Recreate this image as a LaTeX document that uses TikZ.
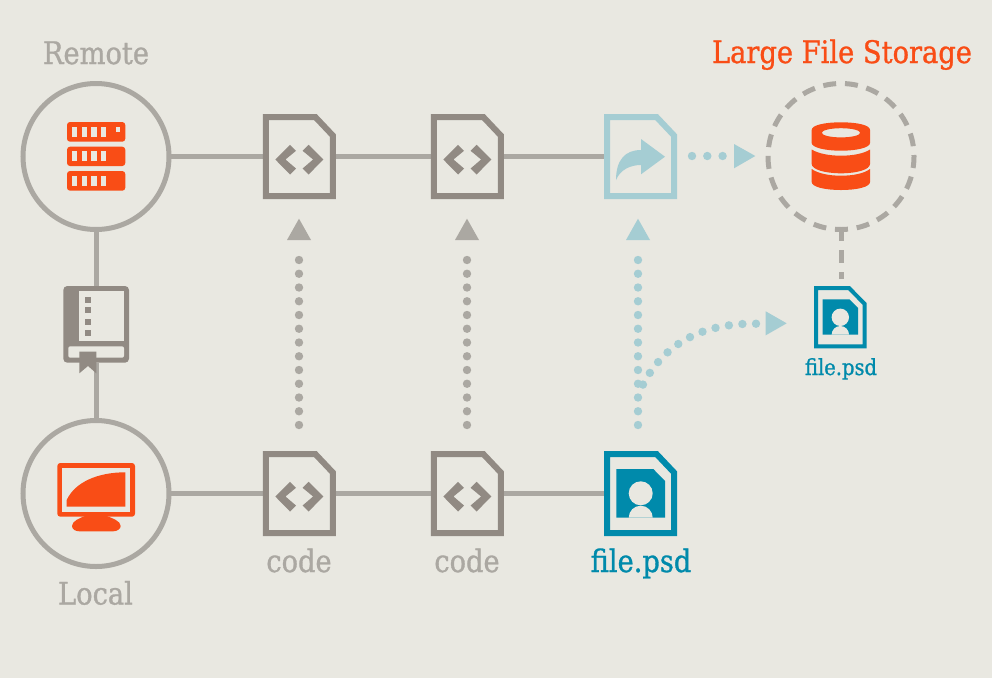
\documentclass[tikz,border=0pt]{standalone}
\usepackage{fontspec}
\setmainfont{DejaVu Serif}[FakeStretch=0.88,FakeBold=1.0]
\usetikzlibrary{calc}
\definecolor{bgc}{HTML}{E9E8E1}
\definecolor{orangec}{HTML}{F94D16}
\definecolor{tealc}{HTML}{008AAB}
\definecolor{lightc}{HTML}{A5CDD3}
\definecolor{linec}{HTML}{ABA8A2}
\definecolor{docc}{HTML}{918A83}
\tikzset{
  hub/.style={circle,draw=linec,line width=5pt,minimum size=146pt,inner sep=0pt,outer sep=0pt},
  docbox/.style={rectangle,minimum width=73pt,minimum height=85pt,inner sep=0pt,outer sep=0pt},
  smalldocbox/.style={rectangle,minimum width=53pt,minimum height=62.5pt,inner sep=0pt,outer sep=0pt},
  bookbox/.style={rectangle,minimum width=66pt,minimum height=76.7pt,inner sep=0pt,outer sep=0pt},
  wire/.style={draw=linec,line width=5pt},
  dotline/.style={line width=8.4pt,line cap=round,dash pattern=on 0pt off 13.75pt},
  dashwire/.style={draw=linec,line width=5pt,dash pattern=on 13pt off 9pt,dash phase=1.5pt},
  lbl/.style={anchor=base,inner sep=0pt,font=\fontsize{31}{31}\selectfont}
}
% document outline and code mark
\newcommand{\docoutline}[2]{%
  \begin{scope}[shift={(#1.center)}]
    \draw[#2,line width=6pt,miter limit=10] (-33.5,-39.5) -- (16,-39.5) -- (33.5,-21) -- (33.5,39.5) -- (-33.5,39.5) -- cycle;
  \end{scope}}
\newcommand{\codemark}[1]{%
  \begin{scope}[shift={(#1.center)}]
    \fill[docc] (-24,3) -- (-9.3,-11.7) -- (-3.3,-5.7) -- (-13.8,3) -- (-3.3,12) -- (-9.3,18) -- cycle;
    \fill[docc] (24,3) -- (9.3,-11.7) -- (3.3,-5.7) -- (13.8,3) -- (3.3,12) -- (9.3,18) -- cycle;
  \end{scope}}
\begin{document}
\begin{tikzpicture}[x=1pt,y=-1pt]
\useasboundingbox[fill=bgc] (0,0) rectangle (992,678);
% named places
\node[hub] (remote) at (96,156.5) {};
\node[hub] (local) at (96,493.5) {};
\node[bookbox] (book) at (96,324.3) {};
\node[docbox] (up1) at (299.3,156.5) {};
\node[docbox] (up2) at (467.3,156.5) {};
\node[docbox] (up3) at (640.5,156.5) {};
\node[docbox] (lo1) at (299.3,493.5) {};
\node[docbox] (lo2) at (467.3,493.5) {};
\node[docbox] (psd) at (640.5,493.5) {};
\node[circle,draw=linec,line width=5pt,minimum size=146pt,inner sep=0pt,outer sep=0pt,
      dash pattern=on 13pt off 8.841pt,dash phase=11.5pt] (lfs) at (841,156.5) {};
\node[smalldocbox] (small) at (840.3,317) {};
% solid connectors
\draw[wire] (remote) -- (up1);
\draw[wire] (up1) -- (up2);
\draw[wire] (up2) -- (up3);
\draw[wire] (local) -- (lo1);
\draw[wire] (lo1) -- (lo2);
\draw[wire] (lo2) -- (psd);
\draw[wire] (remote) -- (book);
\draw[wire] (book) -- (local);
% dashed connector
\coordinate (smalltop) at (841,279.3);
\draw[dashwire] (lfs.south) -- (smalltop);
% dotted connectors
\coordinate (a1s) at (299,425); \coordinate (a1e) at (299,246.3);
\coordinate (a2s) at (467,425); \coordinate (a2e) at (467,246.3);
\coordinate (a3s) at (638,425); \coordinate (a3e) at (638,246.3);
\coordinate (a4s) at (692,156); \coordinate (a4e) at (723,156);
\coordinate (a5s) at (642.3,385.8); \coordinate (a5e) at (756,323.7);
\draw[dotline,linec] (a1s) -- (a1e);
\draw[dotline,linec] (a2s) -- (a2e);
\draw[dotline,lightc] (a3s) -- (a3e);
\draw[dotline,dash pattern=on 0pt off 15.3pt,lightc] (a4s) -- (a4e);
\draw[dotline,dash pattern=on 0pt off 13.6pt,lightc] (a5e) .. controls (703,323) and (664,343) .. (a5s);
% arrowheads
\fill[linec] (299,218.7) -- (311,240) -- (287,240) -- cycle;
\fill[linec] (467,218.7) -- (479,240) -- (455,240) -- cycle;
\fill[lightc] (638,218.7) -- (650,240) -- (626,240) -- cycle;
\fill[lightc] (734,144) -- (755.3,156) -- (734,168.3) -- cycle;
\fill[lightc] (765.7,311.3) -- (786.7,323.3) -- (765.7,335.3) -- cycle;
% documents
\docoutline{up1}{docc}\codemark{up1}
\docoutline{up2}{docc}\codemark{up2}
\docoutline{lo1}{docc}\codemark{lo1}
\docoutline{lo2}{docc}\codemark{lo2}
\docoutline{up3}{lightc}
\docoutline{psd}{tealc}
% share arrow
\fill[lightc] (641,139) -- (665,156.7) -- (641,174.3) -- (641,165) .. controls (630,165) and (620,170) .. (616,180) .. controls (616,160) and (625,150) .. (641,150) -- cycle;
% large psd picture
\fill[tealc] (616.3,469) -- (653.3,469) -- (665,481) -- (665,517.7) -- (616.3,517.7) -- cycle;
\fill[bgc] (640.7,493.3) circle (12);
\fill[bgc] (628.7,517.7) arc[start angle=180,end angle=0,x radius=12,y radius=-12] -- cycle;
% small psd
\draw[tealc,line width=4pt] (816,288) -- (849,288) -- (864.7,304) -- (864.7,346.3) -- (816,346.3) -- cycle;
\fill[tealc] (822.7,299.3) -- (849.3,299.3) -- (858,308) -- (858,334.7) -- (822.7,334.7) -- cycle;
\fill[bgc] (840.3,317.3) circle (8.7);
\fill[bgc] (831.6,334.7) arc[start angle=180,end angle=0,x radius=8.7,y radius=-8.7] -- cycle;
% server icon
\fill[orangec,rounded corners=3pt] (67,122) rectangle (125.3,141.7);
\fill[orangec,rounded corners=3pt] (67,146.7) rectangle (125.3,166);
\fill[orangec,rounded corners=3pt] (67,171) rectangle (125.3,190.7);
\foreach \sy/\ey in {127.3/137,151.3/161.3,176/185.7}{
  \foreach \sx in {72,81.7,91.3,101}{
    \fill[bgc] (\sx,\sy) rectangle ++(5.3,\ey-\sy);
  }
}
\fill[bgc] (115.7,127.3) rectangle (120.3,132);
% monitor icon
\fill[orangec,rounded corners=3pt] (57.3,463) rectangle (135,516.7);
\fill[bgc] (62.3,467.7) rectangle (130,511.7);
\fill[orangec] (66.7,506.7) -- (66.7,500) .. controls (75,482) and (98,472.3) .. (125.3,472.3) -- (125.3,506.7) -- cycle;
\fill[orangec] (85,516) -- (106.7,516) .. controls (112,518) and (120.7,521) .. (120.7,526) .. controls (120.7,529) and (117,531.3) .. (113.3,531.3) -- (79.3,531.3) .. controls (75,531.3) and (72,529) .. (72,526) .. controls (72,521) and (80,518) .. (85,516) -- cycle;
% book icon
\fill[docc,rounded corners=4pt] (63.3,286) rectangle (129,362.7);
\fill[bgc] (79.3,291.3) rectangle (124,341);
\fill[bgc,rounded corners=2pt] (68.3,346.3) -- (124,346.3) -- (124,357.7) -- (68.3,357.7) -- cycle;
\fill[docc] (79.3,351.7) -- (96.3,351.7) -- (96.3,373.3) -- (88,366) -- (79.3,373.3) -- cycle;
\foreach \qy in {299.7,310.3,321.7,332.7}{
  \fill[docc] (85,\qy-3) rectangle (91,\qy+3);
}
% database icon
\fill[orangec,even odd rule] (811.7,130) .. controls (811.7,125) and (825,122.3) .. (841,122.3) .. controls (857,122.3) and (870,125) .. (870,130) -- (870,143) .. controls (870,147.5) and (857,150.7) .. (841,150.7) .. controls (825,150.7) and (811.7,147.5) .. (811.7,143) -- cycle
  (841,132.8) ellipse[x radius=19.2,y radius=4.6];
\fill[orangec] (811.7,149.5) .. controls (818,153.5) and (829,155.7) .. (841,155.7) .. controls (853,155.7) and (864,153.5) .. (870,149.5) -- (870,164) .. controls (870,169.5) and (857,173.3) .. (841,173.3) .. controls (825,173.3) and (811.7,169.5) .. (811.7,164) -- cycle;
\fill[orangec] (811.7,169) .. controls (818,173.5) and (829,175.7) .. (841,175.7) .. controls (853,175.7) and (864,173.5) .. (870,169) -- (870,182) .. controls (870,187) and (857,190) .. (841,190) .. controls (825,190) and (811.7,187) .. (811.7,182) -- cycle;
% labels
\node[lbl,text=linec] (tremote) at (96,64) {Remote};
\node[lbl,text=linec] (tlocal) at (95.5,604.5) {Local};
\node[lbl,text=linec] (tc1) at (299,572) {code};
\node[lbl,text=linec] (tc2) at (467,572) {code};
\node[lbl,text=tealc] (tpsd) at (641,572) {file.psd};
\node[lbl,text=tealc,font=\fontsize{22.2}{22.2}\selectfont] (tsmall) at (841,375) {file.psd};
\node[lbl,text=orangec] (tlfs) at (842,63) {Large File Storage};
\end{tikzpicture}
\end{document}
